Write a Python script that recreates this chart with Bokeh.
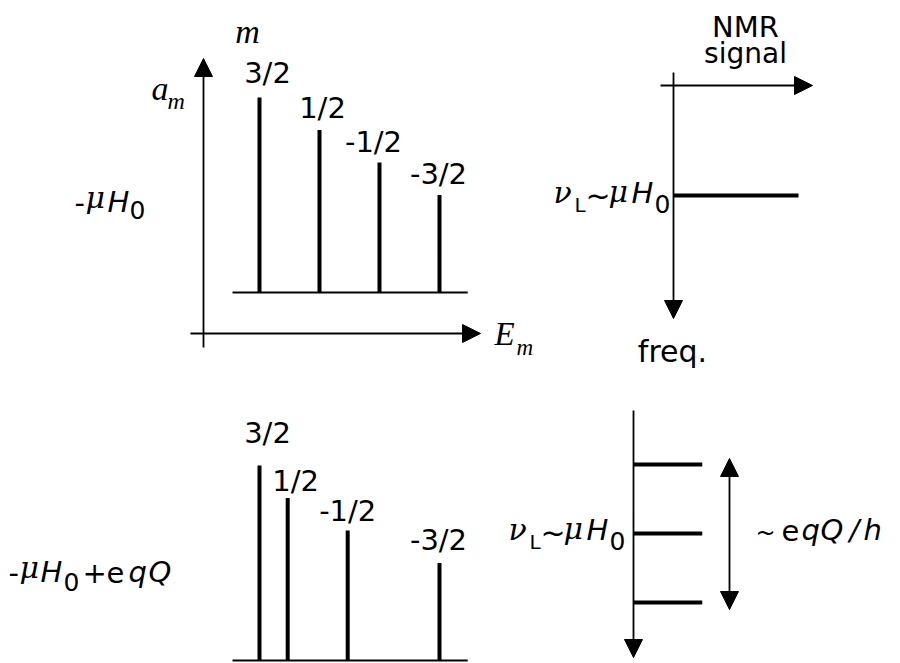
from bokeh.plotting import figure
from bokeh.models import Range1d, Arrow, NormalHead, Label, ColumnDataSource
from bokeh.core.properties import value
from bokeh.embed import file_html
from bokeh.resources import INLINE

# ---------------- data ----------------
m_labels = ["3/2", "1/2", "-1/2", "-3/2"]
amp = [6, 5, 4, 3]                 # a_m (relative amplitude)
E_zeeman = [0, 1, 2, 3]            # E_m for -muH0 only
E_quad = [0, 0.47, 1.47, 3]        # E_m for -muH0 + eqQ
f_zeeman = [0]                     # NMR line position (units of eqQ/h) -> nu_L
s_zeeman = [1.0]                   # NMR signal
f_quad = [-1, 0, 1]                # quadrupole-split lines
s_quad = [0.55, 0.55, 0.55]

# label placement (pixels, styling only)
top_dx = [8, 3, -6, -1]
top_gap = [14, 12, 10, 11]
bot_dx = [8, 8, 0, -1]
bot_gap = [22, 7, 9, 13]

# ---------------- geometry ----------------
W, H = 900, 663
XL, XR = 0, 900
YB, YT = 663, 0
BASE_K = 0.36      # empirical baseline correction (fraction of font size)

p = figure(width=W, height=H, x_range=Range1d(XL, XR), y_range=Range1d(YB, YT),
           output_backend="svg", toolbar_location=None, tools="",
           x_axis_location=None, y_axis_location=None, min_border=0,
           outline_line_color=None, background_fill_color="white",
           border_fill_color="white")
p.grid.visible = False

E_PX, E0 = 60.0, 259.0
A_PX = 32.5
A0_TOP, A0_BOT = 292.0, 660.0
S_PX = 125.0
S0_TOP, S0_BOT = 673.0, 633.0
F_PX = 69.0
F0_TOP, F0_BOT = 195.0, 533.0

p.extra_x_ranges = {
    "E": Range1d((XL - E0) / E_PX, (XR - E0) / E_PX),
    "s_top": Range1d((XL - S0_TOP) / S_PX, (XR - S0_TOP) / S_PX),
    "s_bot": Range1d((XL - S0_BOT) / S_PX, (XR - S0_BOT) / S_PX),
}
p.extra_y_ranges = {
    "a_top": Range1d((A0_TOP - YB) / A_PX, (A0_TOP - YT) / A_PX),
    "a_bot": Range1d((A0_BOT - YB) / A_PX, (A0_BOT - YT) / A_PX),
    "f_top": Range1d((YB - F0_TOP) / F_PX, (YT - F0_TOP) / F_PX),
    "f_bot": Range1d((YB - F0_BOT) / F_PX, (YT - F0_BOT) / F_PX),
}

SANS = "DejaVu Sans"
SERIF = "Liberation Serif"
GREEK = "DejaVu Serif"
LBL = 29

# ---------------- stick spectra ----------------
for E, a_name, dx, gap in [(E_zeeman, "a_top", top_dx, top_gap),
                           (E_quad, "a_bot", bot_dx, bot_gap)]:
    n = len(E)
    p.segment(x0=[-0.45], y0=[0], x1=[3.47], y1=[0], x_range_name="E",
              y_range_name=a_name, line_color="black", line_width=1.8)
    p.segment(x0=E, y0=[0] * n, x1=E, y1=amp, x_range_name="E",
              y_range_name=a_name, line_color="black", line_width=4)
    ys = [a + (g + BASE_K * LBL) / A_PX for a, g in zip(amp, gap)]
    src = ColumnDataSource(dict(x=E, y=ys, t=m_labels, dx=dx))
    p.text(x="x", y="y", text="t", x_offset="dx", source=src,
           x_range_name="E", y_range_name=a_name,
           text_font=value(SANS), text_font_size=f"{LBL}px", text_align="center",
           text_baseline="alphabetic", text_color="black")

# ---------------- NMR lines ----------------
for f, s, sx, fy in [(f_zeeman, s_zeeman, "s_top", "f_top"),
                     (f_quad, s_quad, "s_bot", "f_bot")]:
    p.segment(x0=[0] * len(f), y0=f, x1=s, y1=f, x_range_name=sx,
              y_range_name=fy, line_color="black", line_width=4)

# ---------------- arrows ----------------
def arrow(x0, y0, x1, y1, both=False):
    head = dict(size=18, fill_color="black", line_color="black", line_width=1)
    kw = dict(end=NormalHead(**head), x_start=x0, y_start=y0, x_end=x1, y_end=y1,
              line_color="black", line_width=1.8)
    if both:
        kw["start"] = NormalHead(**head)
    p.add_layout(Arrow(**kw))

arrow(203, 347, 203, 58)
arrow(190, 333, 480, 333)
arrow(673, 72, 673, 318)
arrow(660, 85, 812, 85)
arrow(633, 410, 633, 657)
arrow(729, 458, 729, 609, both=True)

# ---------------- text ----------------
def txt(x, y, s, size=28, font=SANS, style="normal", align="left"):
    p.add_layout(Label(x=x, y=y - BASE_K * size, text=s, text_font=font,
                       text_font_size=f"{size}px", text_font_style=style,
                       text_align=align, text_baseline="alphabetic",
                       text_color="black"))

# axis symbols
txt(247, 43, "m", 34, SERIF, "italic", "center")
txt(151, 100, "a", 34, SERIF, "italic")
txt(167, 109, "m", 24, SERIF, "italic")
txt(494, 345, "E", 33, SERIF, "italic")
txt(516, 355, "m", 23, SERIF, "italic")

# -muH0
txt(74, 212, "-", 29)
txt(85, 208, "μ", 30, GREEK, "italic")
txt(107, 212, "H", 29, SANS, "italic")
txt(129, 218, "0", 25)

# -muH0 + eqQ
txt(8, 582, "-", 29)
txt(19, 578, "μ", 30, GREEK, "italic")
txt(40, 582, "H", 29, SANS, "italic")
txt(63, 590, "0", 25)
txt(82, 582, "+", 29)
txt(106, 582, "e", 29)
txt(128, 582, "q", 29, SANS, "italic")
txt(148, 582, "Q", 29, SANS, "italic")

# NMR signal / freq.
txt(745, 37, "NMR", 29, SANS, "normal", "center")
txt(745, 63, "signal", 28, SANS, "normal", "center")
txt(672, 362, "freq.", 30, SANS, "normal", "center")

# nu_L ~ mu H0 (top and bottom)
for x0, yb in [(553, 203), (508, 540)]:
    txt(x0, yb, "ν", 30, GREEK, "italic")
    txt(x0 + 21, yb + 9, "L", 20)
    txt(x0 + 32, yb + 3, "~", 30)
    txt(x0 + 55, yb - 1, "μ", 30, GREEK, "italic")
    txt(x0 + 78, yb, "H", 29, SANS, "italic")
    txt(x0 + 101, yb + 9, "0", 25)

# ~ eqQ/h
txt(755, 541, "~", 24)
txt(781, 540, "e", 29)
txt(801, 540, "q", 29, SANS, "italic")
txt(820, 540, "Q", 29, SANS, "italic")
txt(849, 540, "/", 29, SANS, "italic")
txt(863, 540, "h", 29, SANS, "italic")

open("out.html", "w").write(file_html(p, INLINE))
